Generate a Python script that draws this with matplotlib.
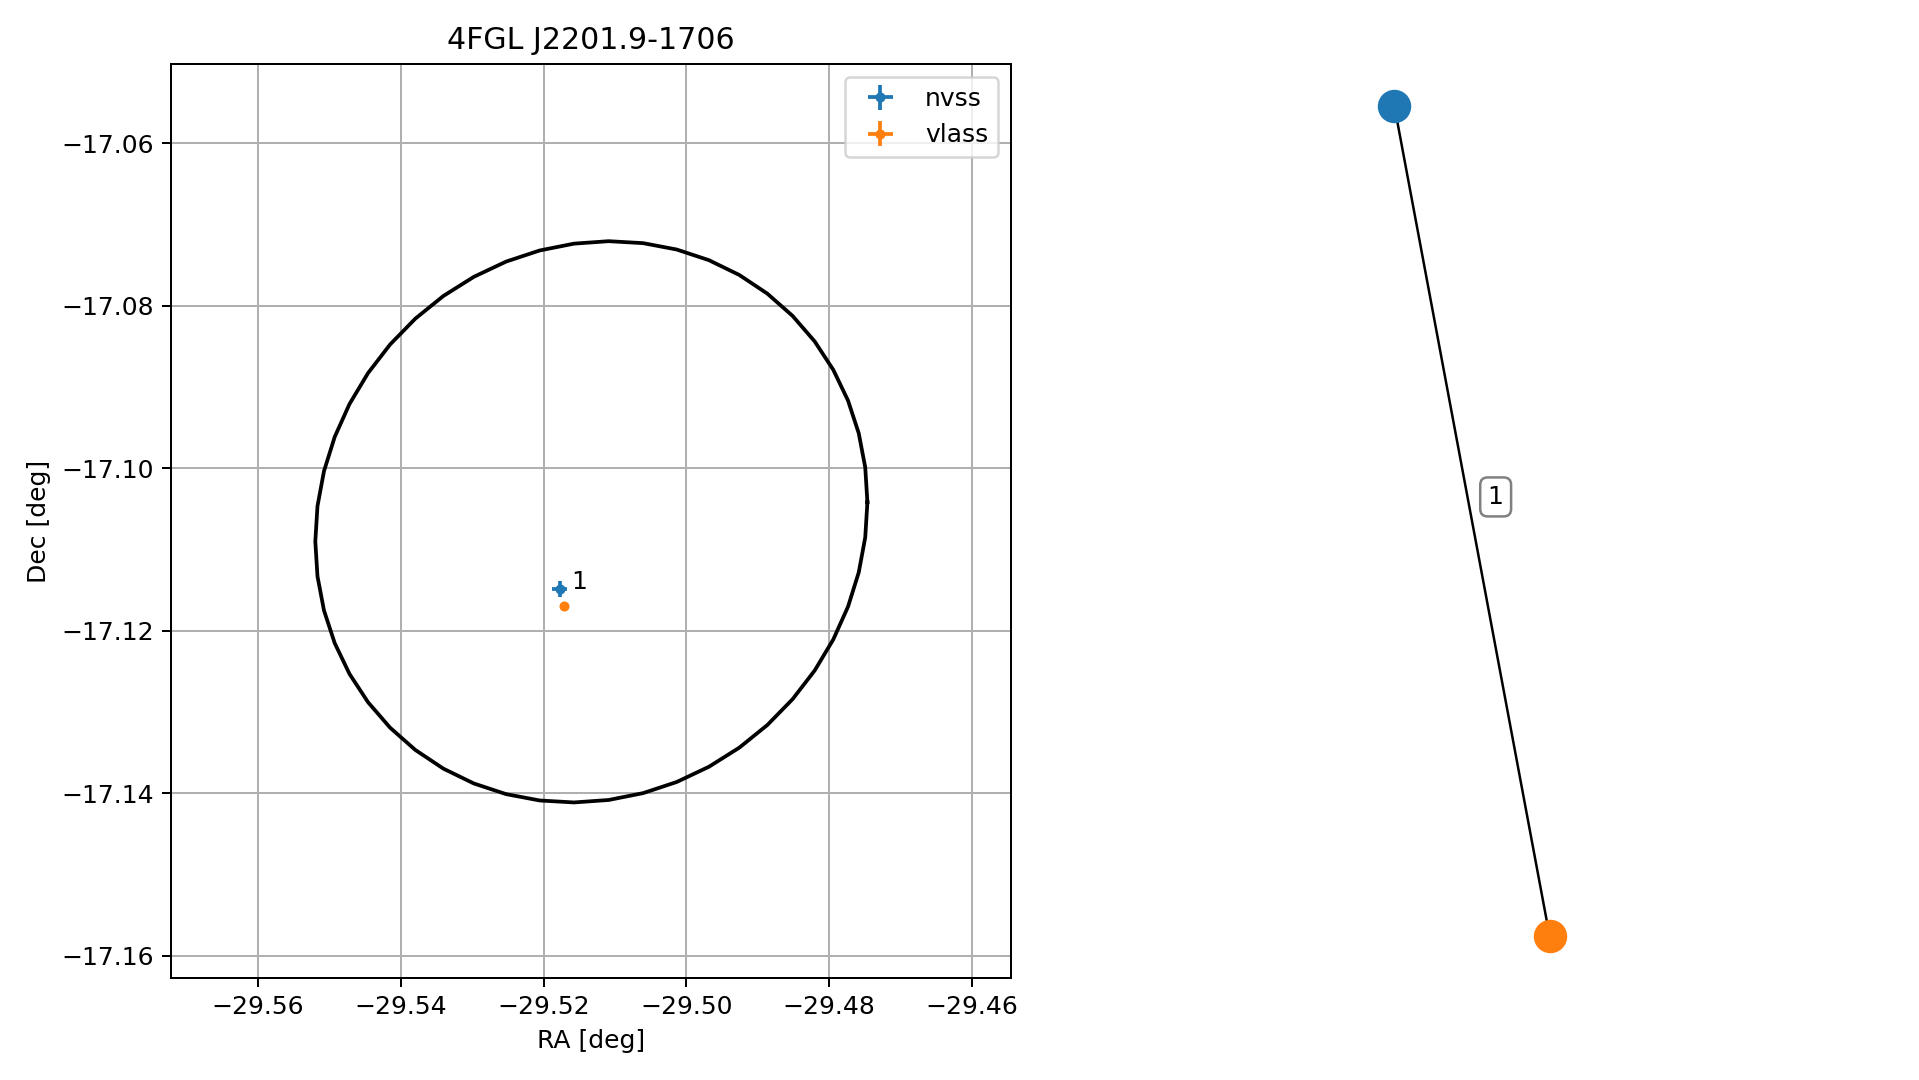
import numpy as np
import matplotlib
matplotlib.use("Agg")
import matplotlib.pyplot as plt

# ---- data ----
title = "4FGL J2201.9-1706"
surveys = ["nvss", "vlass"]
ra = [-29.51775, -29.51719]
dec = [-17.11486, -17.11695]
ra_err = [0.00105, 0.00025]
dec_err = [0.00098, 0.00025]
match_label = "1"

# 4FGL error ellipse (centre, semi-axes, shear term)
ell_ra0 = -29.5133
ell_dec0 = -17.1066
ell_a = 0.03868
ell_b = 0.03445
ell_c = 0.00241
ell_n = 50

xlim = (-29.5722, -29.4545)
ylim = (-17.1627, -17.0503)
xticks = [-29.56, -29.54, -29.52, -29.50, -29.48, -29.46]
yticks = [-17.16, -17.14, -17.12, -17.10, -17.08, -17.06]

# graph node layout and edge
node_pos = {"nvss": (-0.187, 1.0), "vlass": (0.187, -1.0)}
edge = ("nvss", "vlass")
edge_label = "1"
edge_label_pos = (0.057, 0.058)

colors = {"nvss": "#1f77b4", "vlass": "#ff7f0e"}

DPI = 180
fig = plt.figure(figsize=(1919 / DPI, 1080 / DPI), dpi=DPI)
W, H = 1919, 1080
ax = fig.add_axes([171 / W, 1 - 977.7 / H, 840 / W, (977.7 - 64.3) / H])
ax2 = fig.add_axes([1052 / W, 1 - 977.7 / H, 840 / W, (977.7 - 64.3) / H])

# ellipse
t = np.linspace(0, 2 * np.pi, ell_n + 1)
ex = ell_ra0 + ell_a * np.cos(t)
ey = ell_dec0 + ell_b * np.sin(t) + ell_c * np.cos(t)
ax.plot(ex, ey, color="black", lw=1.5)

for i, s in enumerate(surveys):
    ax.errorbar(ra[i], dec[i], xerr=ra_err[i], yerr=dec_err[i], fmt=".",
                color=colors[s], label=s)
ax.text(ra[0] + 0.0016, dec[0], match_label, fontsize=10)

ax.set_xlim(*xlim)
ax.set_ylim(*ylim)
ax.set_xticks(xticks)
ax.set_yticks(yticks)
ax.grid(True)
ax.set_axisbelow(True)
ax.set_xlabel("RA [deg]")
ax.set_ylabel("Dec [deg]")
ax.set_title(title, fontsize=12)
ax.legend(loc="upper right")

# graph panel
(x0, y0), (x1, y1) = node_pos[edge[0]], node_pos[edge[1]]
ax2.plot([x0, x1], [y0, y1], color="black", lw=1.0, zorder=1)
for n, (x, y) in node_pos.items():
    ax2.scatter([x], [y], s=153, color=colors[n], zorder=2)
ax2.text(edge_label_pos[0], edge_label_pos[1], edge_label, fontsize=10,
         ha="center", va="center",
         bbox=dict(boxstyle="round", ec="0.5", fc="white"))
ax2.set_aspect("equal", adjustable="datalim")
ax2.margins(0.05)
ax2.axis("off")

fig.savefig("out.png", dpi=DPI)
